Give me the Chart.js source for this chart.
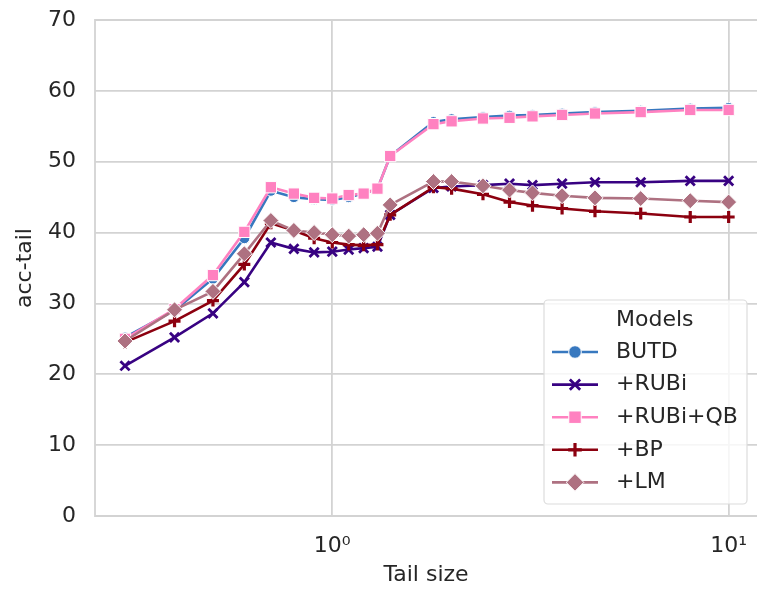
<!DOCTYPE html>
<html>
<head>
<meta charset="utf-8">
<script src="https://cdn.jsdelivr.net/npm/chart.js@4.4.1/dist/chart.umd.min.js"></script>
<style>
  html, body { margin: 0; padding: 0; background: #fff; }
</style>
</head>
<body>
<canvas id="chart" width="757" height="589"></canvas>
<script>
// tail sizes (x) and acc-tail per model
const tailSizes = [0.3, 0.4, 0.5, 0.6, 0.7, 0.8, 0.9, 1.0, 1.1, 1.2, 1.3, 1.4, 1.8, 2.0, 2.4, 2.8, 3.2, 3.8, 4.6, 6, 8, 10];
const butd   = [25.2, 29.0, 33.5, 39.2, 45.9, 45.0, 44.7, 44.6, 45.0, 45.5, 46.2, 50.8, 55.6, 56.0, 56.3, 56.5, 56.6, 56.8, 57.0, 57.2, 57.5, 57.6];
const rubi   = [21.2, 25.2, 28.6, 33.0, 38.6, 37.7, 37.2, 37.3, 37.6, 37.8, 38.0, 42.5, 46.3, 46.5, 46.7, 46.9, 46.7, 46.9, 47.1, 47.1, 47.3, 47.3];
const rubiQb = [25.0, 29.2, 34.0, 40.1, 46.4, 45.5, 44.9, 44.8, 45.3, 45.5, 46.2, 50.8, 55.3, 55.7, 56.1, 56.2, 56.4, 56.6, 56.8, 57.0, 57.3, 57.3];
const bp     = [24.5, 27.5, 30.4, 35.5, 41.3, 40.3, 39.2, 38.6, 38.3, 38.2, 38.3, 42.5, 46.4, 46.2, 45.4, 44.3, 43.8, 43.4, 43.0, 42.7, 42.2, 42.2];
const lm     = [24.7, 29.1, 31.7, 37.0, 41.7, 40.3, 40.0, 39.7, 39.5, 39.7, 39.9, 43.9, 47.2, 47.2, 46.6, 46.0, 45.6, 45.2, 44.9, 44.8, 44.5, 44.3];

const modelNames = ['BUTD', '+RUBi', '+RUBi+QB', '+BP', '+LM'];
const yTicks = [0, 10, 20, 30, 40, 50, 60, 70];
const xTicks = [1, 10];
const xTickLabels = ['10\u2070', '10\u00b9'];

const FONT = "'DejaVu Sans', sans-serif";
const TEXT = '#262626';
const GRID = '#d3d3d3';

function pts(values) {
  return tailSizes.map((x, i) => ({ x: x, y: values[i] }));
}

function series(label, values, color, style, radius, order, border) {
  return {
    label: label,
    data: pts(values),
    borderColor: color,
    backgroundColor: color,
    borderWidth: 2.6,
    pointStyle: style,
    pointRadius: radius,
    pointBackgroundColor: color,
    pointBorderColor: border ? border.color : color,
    pointBorderWidth: border ? border.width : 1,
    order: order,
  };
}

const datasets = [
  series(modelNames[0], butd, '#3778bf', 'circle', 5.5, 5, { color: '#ffffff', width: 1 }),
  series(modelNames[1], rubi, '#380282', 'crossRot', 6.5, 4, { color: '#380282', width: 2.8 }),
  series(modelNames[2], rubiQb, '#ff81c0', 'rect', 8, 3, { color: '#ffffff', width: 1 }),
  series(modelNames[3], bp, '#8c000f', 'cross', 6, 2, { color: '#8c000f', width: 3.2 }),
  series(modelNames[4], lm, '#ae7181', 'rectRot', 8, 1, { color: '#ffffff', width: 1 }),
];

// left and bottom spines (the right one falls off the canvas)
const frame = {
  id: 'frame',
  beforeDatasetsDraw(chart) {
    const a = chart.chartArea, ctx = chart.ctx;
    ctx.save();
    ctx.strokeStyle = GRID;
    ctx.lineWidth = 1.8;
    ctx.beginPath();
    ctx.moveTo(a.right, a.top);
    ctx.lineTo(a.left, a.top);
    ctx.lineTo(a.left, a.bottom);
    ctx.lineTo(a.right, a.bottom);
    ctx.stroke();
    ctx.restore();
  }
};

// legend box in the lower right with a title
const modelLegend = {
  id: 'modelLegend',
  afterDatasetsDraw(chart) {
    const ctx = chart.ctx;
    const bx = 544, by = 300, bw = 203, bh = 204;
    ctx.save();
    ctx.beginPath();
    ctx.roundRect(bx, by, bw, bh, 4);
    ctx.fillStyle = 'rgba(255,255,255,0.8)';
    ctx.fill();
    ctx.strokeStyle = '#dcdcdc';
    ctx.lineWidth = 1.2;
    ctx.stroke();

    ctx.font = '22px ' + FONT;
    ctx.fillStyle = TEXT;
    ctx.textBaseline = 'middle';
    ctx.textAlign = 'left';
    ctx.fillText('Models', 616, 320);

    chart.data.datasets.forEach((ds, i) => {
      const y = 352 + i * 32.6;
      ctx.beginPath();
      ctx.strokeStyle = ds.borderColor;
      ctx.lineWidth = 2.6;
      ctx.moveTo(552, y);
      ctx.lineTo(598, y);
      ctx.stroke();
      ctx.fillStyle = ds.pointBackgroundColor;
      ctx.strokeStyle = ds.pointBorderColor;
      ctx.lineWidth = ds.pointBorderWidth;
      Chart.helpers.drawPoint(ctx, { pointStyle: ds.pointStyle, radius: ds.pointRadius + 0.8, borderWidth: ds.pointBorderWidth }, 575, y);
      ctx.fillStyle = TEXT;
      ctx.fillText(ds.label, 616, y);
    });
    ctx.restore();
  }
};

new Chart(document.getElementById('chart'), {
  type: 'line',
  data: { datasets: datasets },
  plugins: [frame, modelLegend],
  options: {
    responsive: false,
    animation: false,
    layout: { autoPadding: false, padding: { left: 0, right: 0, top: 20, bottom: 0 } },
    plugins: { legend: { display: false }, tooltip: { enabled: false } },
    scales: {
      x: {
        type: 'logarithmic',
        min: 0.252,
        max: 11.79,
        afterBuildTicks: s => { s.ticks = xTicks.map(v => ({ value: v })); },
        afterFit: s => { s.height = 73; s.paddingLeft = 0; s.paddingRight = 0; },
        grid: { color: GRID, lineWidth: 1.8, drawTicks: false },
        border: { display: false },
        ticks: {
          autoSkip: false,
          maxRotation: 0,
          padding: 17,
          color: TEXT,
          font: { family: FONT, size: 22 },
          callback: v => xTickLabels[xTicks.indexOf(v)] || '',
        },
        title: {
          display: true,
          text: 'Tail size',
          color: TEXT,
          font: { family: FONT, size: 22 },
          padding: { top: 0, bottom: 1 },
        },
      },
      y: {
        min: 0,
        max: 70,
        afterBuildTicks: s => { s.ticks = yTicks.map(v => ({ value: v })); },
        afterFit: s => { s.width = 95; s.paddingTop = 0; s.paddingBottom = 0; },
        grid: { color: GRID, lineWidth: 1.8, drawTicks: false },
        border: { display: false },
        ticks: {
          padding: 19,
          color: TEXT,
          font: { family: FONT, size: 22 },
        },
        title: {
          display: true,
          text: 'acc-tail',
          color: TEXT,
          font: { family: FONT, size: 22 },
          padding: { top: 12, bottom: 0 },
        },
      },
    },
  },
});
</script>
</body>
</html>
